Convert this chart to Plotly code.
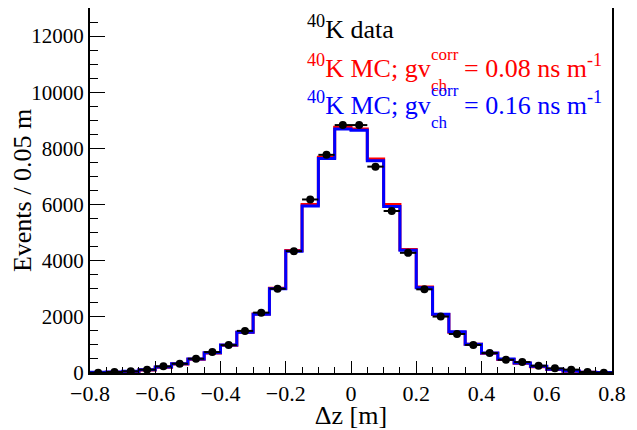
import numpy as np
import plotly.graph_objects as go

# ---- data ----
bin_low = -0.8
bin_width = 0.05
data_counts = [10, 35, 60, 118, 236, 330, 508, 745, 993, 1500, 2150, 3000, 4340, 6180, 7770, 8830,
               8830, 7350, 5770, 4280, 2980, 2010, 1390, 1000, 710, 470, 390, 260, 165, 120, 35, 10]
mc_red = [20, 30, 55, 110, 205, 320, 490, 715, 990, 1450, 2100, 3020, 4360, 6000, 7680, 8750,
          8690, 7620, 6000, 4400, 3060, 2080, 1450, 1020, 700, 480, 345, 225, 125, 65, 28, 18]
mc_blue = [25, 35, 60, 118, 213, 330, 496, 720, 993, 1454, 2092, 3003, 4338, 5950, 7640, 8690,
           8650, 7560, 5930, 4370, 3040, 2092, 1465, 1028, 709, 496, 355, 236, 130, 70, 30, 20]
x_ticks = [-0.8, -0.6, -0.4, -0.2, 0, 0.2, 0.4, 0.6, 0.8]
y_ticks = [0, 2000, 4000, 6000, 8000, 10000, 12000]

nb = len(data_counts)
edges = bin_low + bin_width * np.arange(nb + 1)
centers = 0.5 * (edges[:-1] + edges[1:])

def step(vals):
    return list(edges), list(vals) + [vals[-1]]

fig = go.Figure()
for vals, col in [(mc_red, "#ff0000"), (mc_blue, "#0000ff")]:
    xs, ys = step(vals)
    fig.add_trace(go.Scatter(x=xs, y=ys, mode="lines", line=dict(shape="hv", color=col, width=3),
                             showlegend=False, hoverinfo="skip"))

fig.add_trace(go.Scatter(
    x=list(centers), y=data_counts, mode="markers",
    marker=dict(color="black", size=8),
    error_x=dict(type="constant", value=bin_width / 2, color="black", thickness=2, width=0),
    error_y=dict(type="data", array=list(np.sqrt(data_counts)), color="black", thickness=2, width=0),
    showlegend=False))

# ---- layout geometry (page pixels; page body has an 8px margin) ----
OFF = 8
W, H = 637 - OFF, 430 - OFF
L, R, T, B = 90 - OFF, 612 - OFF, 0, 373 - OFF

def px(x):
    return (x - OFF - L) / (R - L)

def py(y):
    return (B - (y - OFF)) / (B - T)

font = "Liberation Serif"
anns = []
def add(text, x, y, size, color):
    anns.append(dict(text=text, x=px(x), y=py(y), xref="paper", yref="paper",
                     xanchor="left", yanchor="middle", showarrow=False,
                     font=dict(family=font, size=size, color=color)))

add("<sup>40</sup>K data", 305, 27, 26, "black")
for (col, val, base) in [("#ff0000", "0.08", 66), ("#0000ff", "0.16", 103)]:
    add("<sup>40</sup>K MC; gv", 305, base, 26, col)
    add("corr", 429, base - 12, 17, col)
    add("ch", 429, base + 19, 17, col)
    add("= " + val + " ns m<sup>-1</sup>", 462, base, 26, col)

fig.update_layout(
    width=W, height=H,
    margin=dict(l=L, r=W - R, t=T, b=H - B),
    plot_bgcolor="white", paper_bgcolor="white",
    font=dict(family=font, size=22, color="black"),
    annotations=anns,
    xaxis=dict(range=[-0.8, 0.8], tickvals=x_ticks,
               ticktext=[("\u2212" if v < 0 else "") + ("%g" % abs(v)) for v in x_ticks],
               ticks="inside", ticklen=12, tickwidth=1, tickcolor="black",
               minor=dict(dtick=0.05, ticks="inside", ticklen=6, tickcolor="black", tickwidth=1),
               showline=True, linecolor="black", linewidth=2, mirror=True,
               showgrid=False, zeroline=False, automargin=False,
               title=dict(text="\u0394z [m]", font=dict(size=26), standoff=0),
               tickfont=dict(size=22)),
    yaxis=dict(range=[0, 13000], tickvals=y_ticks, ticktext=[str(v) for v in y_ticks],
               ticks="inside", ticklen=15, tickwidth=1, tickcolor="black",
               minor=dict(dtick=500, ticks="inside", ticklen=8, tickcolor="black", tickwidth=1),
               showline=True, linecolor="black", linewidth=2, mirror=True,
               showgrid=False, zeroline=False, automargin=False,
               title=dict(text="Events / 0.05 m", font=dict(size=26), standoff=7),
               tickfont=dict(size=21)),
)

fig.write_html("out.html")
